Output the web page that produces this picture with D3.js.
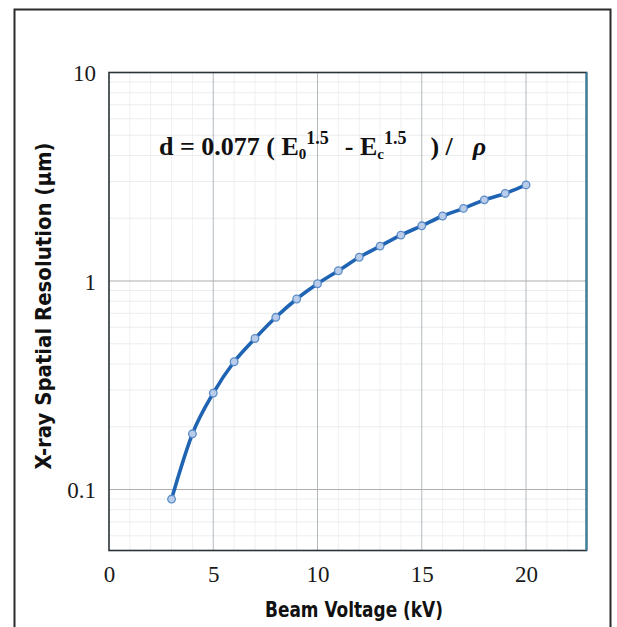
<!DOCTYPE html>
<html><head><meta charset="utf-8">
<script src="https://cdn.jsdelivr.net/npm/d3@7"></script>
<style>
html,body{margin:0;padding:0;background:#fff;}
svg{display:block;}
</style></head>
<body>
<svg id="chart" width="617" height="627"></svg>
<script>
// ---- data ----
const beamVoltage = [3,4,5,6,7,8,9,10,11,12,13,14,15,16,17,18,19,20];
const resolution  = [0.090,0.185,0.29,0.41,0.53,0.67,0.82,0.97,1.12,1.30,1.47,1.66,1.84,2.05,2.23,2.45,2.63,2.89];
const xTicks = [0,5,10,15,20];
const yTicks = [0.1,1,10];
const yTickLabels = ["0.1","1","10"];
const xTitle = "Beam Voltage (kV)";
const yTitle = "X-ray Spatial Resolution (µm)";

const svg = d3.select("#chart");
const plot = {left:109, top:72.5, right:586.5, bottom:550.5};

// outer frame
svg.append("rect").attr("x",14.5).attr("y",9.5).attr("width",596).attr("height",640)
  .attr("fill","#fff").attr("stroke","#2b2b2b").attr("stroke-width",2);

const x = d3.scaleLinear().domain([0,22.9]).range([plot.left, plot.right]);
const y = d3.scaleLog().domain([0.051,10]).range([plot.bottom, plot.top]);

const g = svg.append("g");

// minor grid
const xMinor = d3.range(1,23).filter(v => v % 5 !== 0);
g.append("g").selectAll("line").data(xMinor).join("line")
  .attr("x1",d=>x(d)).attr("x2",d=>x(d)).attr("y1",plot.top).attr("y2",plot.bottom)
  .attr("stroke","#eef0f2").attr("stroke-width",1);
const yMinor = [];
[0.01,0.1,1].forEach(dec => { for (let k=2;k<=9;k++){ const v=dec*k; if (v>=0.051 && v<10) yMinor.push(v);} });
g.append("g").selectAll("line").data(yMinor).join("line")
  .attr("x1",plot.left).attr("x2",plot.right).attr("y1",d=>y(d)).attr("y2",d=>y(d))
  .attr("stroke","#ebedee").attr("stroke-width",1);

// major grid
g.append("g").selectAll("line").data(xTicks.filter(v=>v>0)).join("line")
  .attr("x1",d=>x(d)).attr("x2",d=>x(d)).attr("y1",plot.top).attr("y2",plot.bottom)
  .attr("stroke","#b3babe").attr("stroke-width",1);
g.append("g").selectAll("line").data(yTicks.filter(v=>v<10)).join("line")
  .attr("x1",plot.left).attr("x2",plot.right).attr("y1",d=>y(d)).attr("y2",d=>y(d))
  .attr("stroke","#b0adab").attr("stroke-width",1);

// plot border
svg.append("rect").attr("x",plot.left).attr("y",plot.top)
  .attr("width",plot.right-plot.left).attr("height",plot.bottom-plot.top)
  .attr("fill","none").attr("stroke","#2a3236").attr("stroke-width",1.6);
svg.append("line").attr("x1",plot.right).attr("x2",plot.right).attr("y1",plot.top).attr("y2",plot.bottom)
  .attr("stroke","#3d7f9c").attr("stroke-width",2.2);

// axes (labels only)
const xAxis = svg.append("g").attr("transform",`translate(0,${plot.bottom})`)
  .call(d3.axisBottom(x).tickValues(xTicks).tickSize(0).tickPadding(0).tickFormat(d3.format("d")));
xAxis.select(".domain").remove();
xAxis.selectAll("text").attr("dy",null).attr("y",31)
  .attr("font-family","'Liberation Serif', 'Times New Roman', serif").attr("font-size",23).attr("fill","#1a1a1a");

const yAxis = svg.append("g").attr("transform",`translate(${plot.left},0)`)
  .call(d3.axisLeft(y).tickValues(yTicks).tickSize(0).tickPadding(13).tickFormat((d,i)=>yTickLabels[i]));
yAxis.select(".domain").remove();
yAxis.selectAll("text").attr("dy","0.35em")
  .attr("font-family","'Liberation Serif', 'Times New Roman', serif").attr("font-size",23).attr("fill","#1a1a1a");

// titles
svg.append("text").attr("x",354).attr("y",617).attr("text-anchor","middle")
  .attr("font-family","'Liberation Sans Narrow', 'Arial Narrow', 'DejaVu Sans Condensed', sans-serif")
  .attr("font-weight","bold").attr("font-size",22).attr("fill","#111")
  .attr("textLength",178).attr("lengthAdjust","spacingAndGlyphs").text(xTitle);
svg.append("text").attr("transform","translate(51,306) rotate(-90)").attr("text-anchor","middle")
  .attr("font-family","'Liberation Sans Narrow', 'Arial Narrow', 'DejaVu Sans Condensed', sans-serif")
  .attr("font-weight","bold").attr("font-size",22).attr("fill","#111")
  .attr("textLength",327).attr("lengthAdjust","spacingAndGlyphs").text(yTitle);

// formula
const f = svg.append("text").attr("x",159).attr("y",155)
  .attr("font-family","'Liberation Serif', 'Times New Roman', serif").attr("font-weight","bold")
  .attr("font-size",26).attr("fill","#111");
f.append("tspan").text("d = 0.077 ( E");
f.append("tspan").attr("font-size",15).attr("dy",4).text("0");
f.append("tspan").attr("font-size",18).attr("dy",-15).text("1.5");
f.append("tspan").attr("dy",11).attr("dx",16).text("- E");
f.append("tspan").attr("font-size",15).attr("dy",4).text("c");
f.append("tspan").attr("font-size",18).attr("dy",-15).text("1.5");
f.append("tspan").attr("dy",11).attr("dx",24).text(") /");
f.append("tspan").attr("dx",20).attr("font-style","italic").text("ρ");

// line + markers
const pts = beamVoltage.map((v,i)=>({x:v,y:resolution[i]}));
svg.append("path").datum(pts)
  .attr("d", d3.line().x(d=>x(d.x)).y(d=>y(d.y)).curve(d3.curveMonotoneX))
  .attr("fill","none").attr("stroke","#1f63b3").attr("stroke-width",3.6).attr("stroke-linecap","round");
svg.append("g").selectAll("circle").data(pts).join("circle")
  .attr("cx",d=>x(d.x)).attr("cy",d=>y(d.y)).attr("r",3.8)
  .attr("fill","#b9cdea").attr("stroke","#5b8cc8").attr("stroke-width",1.3);
</script>
</body></html>
